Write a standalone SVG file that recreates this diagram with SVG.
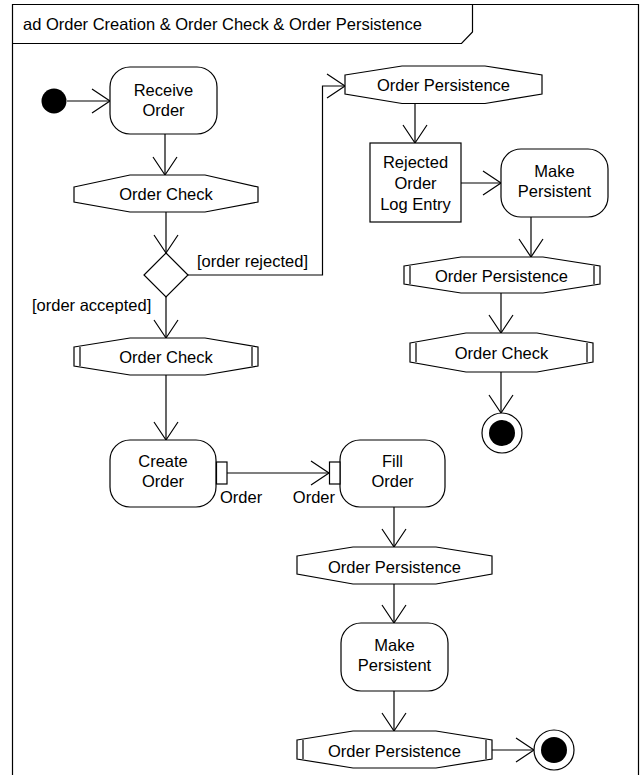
<svg xmlns="http://www.w3.org/2000/svg" width="643" height="775" viewBox="0 0 643 775">
<style>
  .ln{fill:none;stroke:#000;stroke-width:1.2}
  .nd{fill:#fff;stroke:#000;stroke-width:1.2}
  .t{font-family:"Liberation Sans",Arial,sans-serif;font-size:16.5px;fill:#000}
  .c{text-anchor:middle}
</style>
<defs>
  <marker id="arr" viewBox="-20 -14 22 28" refX="0" refY="0" markerWidth="22" markerHeight="28" orient="auto" markerUnits="userSpaceOnUse">
    <path d="M-18,-12 L0,0 L-18,12" fill="none" stroke="#000" stroke-width="1.2"/>
  </marker>
</defs>
<rect width="643" height="775" fill="#fff"/>
<g id="frame">
  <path class="ln" d="M12.5,780 V4.5 H638.5 V780"/>
  <path class="ln" d="M12.5,43.5 H461.5 L472.5,32 V4.5"/>
  <text class="t" x="23" y="30">ad Order Creation &amp; Order Check &amp; Order Persistence</text>
</g>
<g id="connectors">
  <path class="ln" marker-end="url(#arr)" d="M67,101 H110"/>
  <path class="ln" marker-end="url(#arr)" d="M165,134 V175"/>
  <path class="ln" marker-end="url(#arr)" d="M166,212 V253"/>
  <path class="ln" marker-end="url(#arr)" d="M166,297 V338"/>
  <path class="ln" marker-end="url(#arr)" d="M188,275 H322.5 V86 H345"/>
  <path class="ln" marker-end="url(#arr)" d="M415,103.5 V143"/>
  <path class="ln" marker-end="url(#arr)" d="M461,183 H501"/>
  <path class="ln" marker-end="url(#arr)" d="M531,217 V257"/>
  <path class="ln" marker-end="url(#arr)" d="M501,293 V333"/>
  <path class="ln" marker-end="url(#arr)" d="M501,372 V413"/>
  <path class="ln" marker-end="url(#arr)" d="M166,375 V440"/>
  <path class="ln" marker-end="url(#arr)" d="M227,473 H329"/>
  <path class="ln" marker-end="url(#arr)" d="M394,507 V547"/>
  <path class="ln" marker-end="url(#arr)" d="M394,584 V623"/>
  <path class="ln" marker-end="url(#arr)" d="M394,691 V731"/>
  <path class="ln" marker-end="url(#arr)" d="M492,750 H534"/>
  <text class="t" x="197" y="267">[order rejected]</text>
  <text class="t" x="32" y="311">[order accepted]</text>
</g>
<g id="initial">
  <circle cx="54" cy="101" r="12.5" fill="#000"/>
</g>
<g id="receiveOrder">
  <rect class="nd" x="110" y="67" width="107" height="67" rx="20"/>
  <text class="t c" x="163.5" y="96">Receive</text>
  <text class="t c" x="163.5" y="116">Order</text>
</g>
<g id="orderCheck1">
  <polygon class="nd" points="74,187 130,175 205,175 258,187 258,202 205,212 130,212 74,202"/>
  <text class="t c" x="166" y="200">Order Check</text>
</g>
<g id="decision">
  <polygon class="nd" points="166,253 188,275 166,297 144,275"/>
</g>
<g id="orderCheck2">
  <polygon class="nd" points="74,347 130,338 205,338 258,347 258,366 205,375 130,375 74,366"/>
  <path class="ln" d="M80,347 V366 M252,347 V366"/>
  <text class="t c" x="166" y="362.5">Order Check</text>
</g>
<g id="createOrder">
  <rect class="nd" x="110" y="440" width="106" height="67" rx="20"/>
  <text class="t c" x="163" y="467">Create</text>
  <text class="t c" x="163" y="487">Order</text>
  <rect class="nd" x="216.5" y="462" width="10.5" height="22"/>
  <text class="t" x="220" y="503">Order</text>
</g>
<g id="fillOrder">
  <rect class="nd" x="340" y="440" width="105" height="67" rx="20"/>
  <text class="t c" x="392.5" y="467">Fill</text>
  <text class="t c" x="392.5" y="487">Order</text>
  <rect class="nd" x="329.5" y="462" width="10.5" height="22"/>
  <text class="t" x="335" y="503" text-anchor="end">Order</text>
</g>
<g id="orderPersistence3">
  <polygon class="nd" points="297,556 353,547 436,547 492,556 492,574 436,584 353,584 297,574"/>
  <text class="t c" x="394.5" y="573">Order Persistence</text>
</g>
<g id="makePersistent2">
  <rect class="nd" x="341" y="623" width="107" height="68" rx="20"/>
  <text class="t c" x="394.5" y="651">Make</text>
  <text class="t c" x="394.5" y="671">Persistent</text>
</g>
<g id="orderPersistence4">
  <polygon class="nd" points="297,740 353,731 436,731 492,740 492,759 436,768 353,768 297,759"/>
  <path class="ln" d="M303,740 V759 M486,740 V759"/>
  <text class="t c" x="394.5" y="757">Order Persistence</text>
</g>
<g id="final2">
  <circle class="nd" cx="554" cy="750" r="20"/>
  <circle cx="554" cy="750" r="13" fill="#000"/>
</g>
<g id="orderPersistence1">
  <polygon class="nd" points="345,75 402,66 485,66 542,75 542,94 485,103.5 402,103.5 345,94"/>
  <text class="t c" x="443.5" y="91">Order Persistence</text>
</g>
<g id="rejectedLog">
  <rect class="nd" x="370" y="143" width="91" height="79"/>
  <text class="t c" x="415.5" y="168">Rejected</text>
  <text class="t c" x="415.5" y="189">Order</text>
  <text class="t c" x="415.5" y="209.5">Log Entry</text>
</g>
<g id="makePersistent1">
  <rect class="nd" x="501" y="149" width="107" height="68" rx="20"/>
  <text class="t c" x="554.5" y="177">Make</text>
  <text class="t c" x="554.5" y="197">Persistent</text>
</g>
<g id="orderPersistence2">
  <polygon class="nd" points="404,266 461,257 543,257 600,266 600,284 543,293 461,293 404,284"/>
  <path class="ln" d="M410,266 V284 M594,266 V284"/>
  <text class="t c" x="501.5" y="282">Order Persistence</text>
</g>
<g id="orderCheck3">
  <polygon class="nd" points="410,343 466,333 537,333 593,343 593,362 537,372 466,372 410,362"/>
  <path class="ln" d="M416,343 V362 M587,343 V362"/>
  <text class="t c" x="501.5" y="359">Order Check</text>
</g>
<g id="final1">
  <circle class="nd" cx="502" cy="433" r="20"/>
  <circle cx="502" cy="433" r="13" fill="#000"/>
</g>
</svg>
